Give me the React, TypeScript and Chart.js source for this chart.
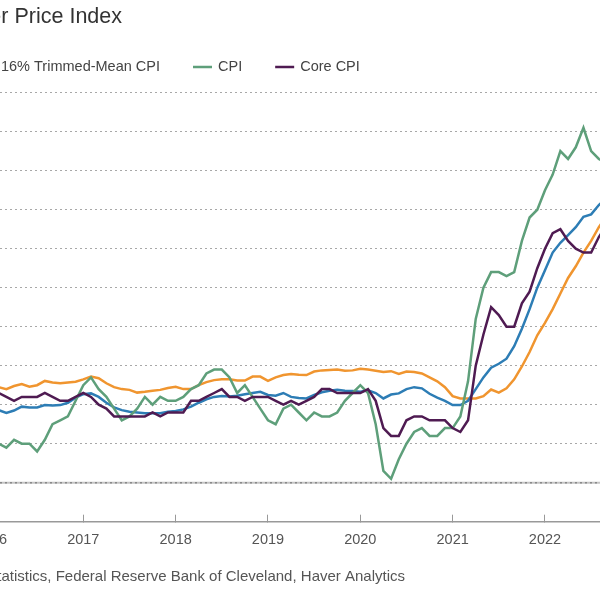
import React, { useEffect, useRef } from 'react';
import { Chart, registerables } from 'chart.js';

Chart.register(...registerables);

// Monthly observations, Jan 2016 .. Sep 2022 (year-over-year % change)
const firstYear = 2016;
const yearLabels = ['2016', '2017', '2018', '2019', '2020', '2021', '2022'];
const seriesNames = ['Median CPI', '16% Trimmed-Mean CPI', 'CPI', 'Core CPI'];
const seriesColors = ['#F0952F', '#2D7DB5', '#5E9F7A', '#4F1B52'];

const medianCPI = [
  2.45, 2.45, 2.40, 2.48, 2.53, 2.46, 2.50, 2.61, 2.57, 2.55, 2.57, 2.59,
  2.65, 2.72, 2.68, 2.55, 2.45, 2.40, 2.38, 2.31, 2.33, 2.36, 2.38, 2.43,
  2.46, 2.40, 2.40, 2.50, 2.58, 2.63, 2.65, 2.65, 2.62, 2.62, 2.72, 2.72,
  2.61, 2.70, 2.76, 2.79, 2.77, 2.76, 2.85, 2.88, 2.89, 2.90, 2.87, 2.88,
  2.92, 2.90, 2.87, 2.84, 2.86, 2.79, 2.85, 2.84, 2.80, 2.70, 2.60, 2.45,
  2.22, 2.16, 2.16, 2.16, 2.22, 2.39, 2.31, 2.42, 2.65, 2.98, 3.35, 3.78,
  4.10, 4.45, 4.85, 5.25, 5.55, 5.90, 6.20, 6.55, 6.85,
];

const trimmedMeanCPI = [
  1.88, 1.86, 1.79, 1.85, 1.95, 1.93, 1.93, 1.99, 1.98, 1.99, 2.05, 2.18,
  2.27, 2.29, 2.20, 2.05, 1.93, 1.86, 1.82, 1.80, 1.78, 1.78, 1.78, 1.82,
  1.84, 1.88, 1.95, 2.05, 2.14, 2.20, 2.22, 2.21, 2.23, 2.27, 2.30, 2.33,
  2.25, 2.23, 2.30, 2.20, 2.17, 2.16, 2.25, 2.32, 2.36, 2.38, 2.36, 2.35,
  2.33, 2.37, 2.30, 2.16, 2.26, 2.29, 2.40, 2.45, 2.42, 2.28, 2.18, 2.10,
  1.99, 1.99, 2.10, 2.40, 2.70, 2.95, 3.05, 3.18, 3.50, 3.95, 4.45, 5.00,
  5.45, 5.90, 6.15, 6.35, 6.55, 6.82, 6.88, 7.12, 7.30,
];

const cpi = [
  1.4, 1.0, 0.9, 1.1, 1.0, 1.0, 0.8, 1.1, 1.5, 1.6, 1.7, 2.1,
  2.5, 2.7, 2.4, 2.2, 1.9, 1.6, 1.7, 1.9, 2.2, 2.0, 2.2, 2.1,
  2.1, 2.2, 2.4, 2.5, 2.8, 2.9, 2.9, 2.7, 2.3, 2.5, 2.2, 1.9,
  1.6, 1.5, 1.9, 2.0, 1.8, 1.6, 1.8, 1.7, 1.7, 1.8, 2.1, 2.3,
  2.5, 2.3, 1.5, 0.3, 0.1, 0.6, 1.0, 1.3, 1.4, 1.2, 1.2, 1.4,
  1.4, 1.7, 2.6, 4.2, 5.0, 5.4, 5.4, 5.3, 5.4, 6.2, 6.8, 7.0,
  7.5, 7.9, 8.5, 8.3, 8.6, 9.1, 8.5, 8.3, 8.2,
];

const coreCPI = [
  2.2, 2.3, 2.2, 2.1, 2.2, 2.2, 2.2, 2.3, 2.2, 2.1, 2.1, 2.2,
  2.3, 2.2, 2.0, 1.9, 1.7, 1.7, 1.7, 1.7, 1.7, 1.8, 1.7, 1.8,
  1.8, 1.8, 2.1, 2.1, 2.2, 2.3, 2.4, 2.2, 2.2, 2.1, 2.2, 2.2,
  2.2, 2.1, 2.0, 2.1, 2.0, 2.1, 2.2, 2.4, 2.4, 2.3, 2.3, 2.3,
  2.3, 2.4, 2.1, 1.4, 1.2, 1.2, 1.6, 1.7, 1.7, 1.6, 1.6, 1.6,
  1.4, 1.3, 1.6, 3.0, 3.8, 4.5, 4.3, 4.0, 4.0, 4.6, 4.9, 5.5,
  6.0, 6.4, 6.5, 6.2, 6.0, 5.9, 5.9, 6.3, 6.6,
];

const titleText = 'Median CPI and Consumer Price Index';
const sourceText = 'Source: U.S. Bureau of Labor Statistics, Federal Reserve Bank of Cleveland, Haver Analytics';

const allSeries = [medianCPI, trimmedMeanCPI, cpi, coreCPI];
const FONT = "'Liberation Sans', Arial, sans-serif";

const toPoints = (arr: number[]) => arr.map((v, i) => ({ x: i, y: v }));

const overlayPlugin = {
  id: 'overlay',
  beforeDraw(chart: any) {
    const { ctx, chartArea, scales } = chart;
    const y0 = scales.y.getPixelForValue(0);
    ctx.save();
    ctx.strokeStyle = '#c4c4c4';
    ctx.lineWidth = 2;
    ctx.beginPath();
    ctx.moveTo(chartArea.left, y0);
    ctx.lineTo(chartArea.right, y0);
    ctx.stroke();
    ctx.restore();
  },
  afterDraw(chart: any) {
    const { ctx } = chart;
    ctx.save();
    // Title (left part runs off the visible area)
    ctx.fillStyle = '#333';
    ctx.font = `21.5px ${FONT}`;
    ctx.textAlign = 'right';
    ctx.textBaseline = 'alphabetic';
    ctx.fillText(titleText, 122, 23);

    // Legend
    ctx.font = `14.5px ${FONT}`;
    ctx.textBaseline = 'middle';
    ctx.textAlign = 'left';
    const ly = 67;
    const markerW = 19;
    const markerGap = 6;
    const itemGap = 33;
    const anchor = 2;
    const markerX: number[] = [];
    markerX[anchor] = 193;
    for (let i = anchor + 1; i < seriesNames.length; i++) {
      const prevEnd = markerX[i - 1] + markerW + markerGap + ctx.measureText(seriesNames[i - 1]).width;
      markerX[i] = prevEnd + itemGap;
    }
    for (let i = anchor - 1; i >= 0; i--) {
      const textRight = markerX[i + 1] - itemGap;
      markerX[i] = textRight - ctx.measureText(seriesNames[i]).width - markerGap - markerW;
    }
    seriesNames.forEach((name, i) => {
      ctx.strokeStyle = seriesColors[i];
      ctx.lineWidth = 2.5;
      ctx.beginPath();
      ctx.moveTo(markerX[i], ly);
      ctx.lineTo(markerX[i] + markerW, ly);
      ctx.stroke();
      ctx.fillStyle = '#444';
      ctx.fillText(name, markerX[i] + markerW + markerGap, ly);
    });

    // Source
    ctx.font = `15px ${FONT}`;
    ctx.fillStyle = '#555';
    ctx.textAlign = 'right';
    ctx.fillText(sourceText, 405, 577);
    ctx.restore();
  },
};

export default function App() {
  const ref = useRef<HTMLCanvasElement>(null);

  useEffect(() => {
    if (!ref.current) return;
    const chart = new Chart(ref.current, {
      type: 'line',
      data: {
        datasets: allSeries.map((arr, i) => ({
          label: seriesNames[i],
          data: toPoints(arr),
          borderColor: seriesColors[i],
          backgroundColor: seriesColors[i],
          borderWidth: 2.5,
          pointRadius: 0,
          tension: 0,
          order: allSeries.length - i,
        })),
      },
      options: {
        responsive: false,
        animation: false,
        devicePixelRatio: 1,
        layout: { padding: { top: 92.7, left: 0, right: 0, bottom: 0 } },
        plugins: {
          legend: { display: false },
          title: { display: false },
          tooltip: { enabled: false },
        },
        scales: {
          x: {
            type: 'linear',
            min: 1.175,
            max: 79.15,
            afterBuildTicks: (scale: any) => {
              scale.ticks = yearLabels.map((_, i) => ({ value: i * 12 }));
            },
            afterFit: (scale: any) => {
              scale.height = 68.3;
              scale.paddingLeft = 0;
              scale.paddingRight = 0;
              scale.paddingTop = 0;
              scale.paddingBottom = 0;
            },
            ticks: {
              autoSkip: false,
              maxRotation: 0,
              padding: 17,
              color: '#555',
              font: { family: FONT, size: 14.5 },
              callback: (v: any) => yearLabels[Math.round(Number(v) / 12)] ?? String(firstYear + Math.round(Number(v) / 12)),
            },
            grid: {
              drawOnChartArea: false,
              drawTicks: true,
              tickLength: -7,
              tickColor: '#999',
              tickWidth: 1,
            },
            border: { display: true, color: '#999', width: 1.5 },
          },
          y: {
            min: -1,
            max: 10,
            ticks: { display: false, stepSize: 1 },
            afterFit: (scale: any) => {
              scale.width = 0;
              scale.paddingTop = 0;
              scale.paddingBottom = 0;
              scale.paddingLeft = 0;
              scale.paddingRight = 0;
            },
            grid: {
              drawTicks: false,
              color: (c: any) => (c.tick && c.tick.value === 0 ? '#8a8a8a' : '#a8a8a8'),
              lineWidth: (c: any) => (c.tick && c.tick.value === 0 ? 1.5 : 1),
            },
            border: { display: false, dash: [2, 3] },
          },
        },
      },
      plugins: [overlayPlugin],
    } as any);
    return () => chart.destroy();
  }, []);

  return (
    <div
      style={{
        position: 'fixed',
        left: 0,
        top: 0,
        width: 600,
        height: 590,
        overflow: 'hidden',
        background: '#fff',
      }}
    >
      <canvas ref={ref} width={600} height={590} style={{ display: 'block', width: 600, height: 590 }} />
    </div>
  );
}
